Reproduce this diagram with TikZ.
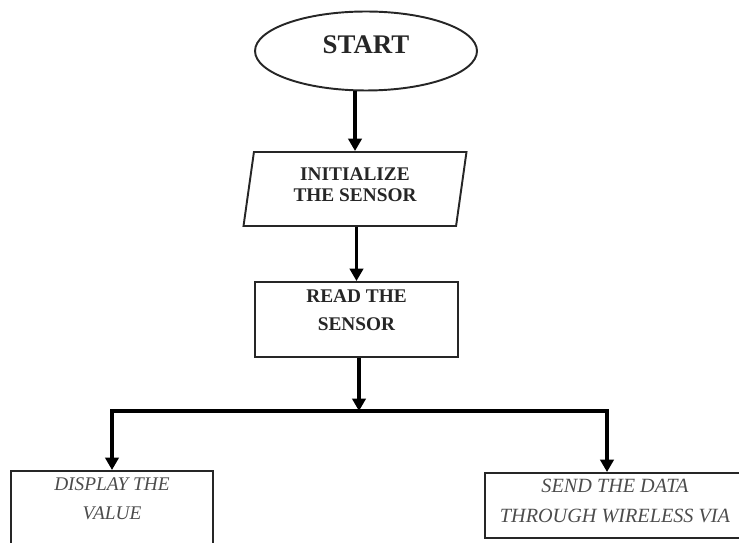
\documentclass[tikz,border=0pt]{standalone}
\usepackage{fontspec}
\setmainfont{Liberation Serif}
\usetikzlibrary{shapes.geometric,arrows.meta}
\begin{document}
\begin{tikzpicture}[x=0.02cm,y=-0.02cm,
  box/.style={draw=black!85, line width=1.1pt, inner sep=0pt, align=center},
  boldtext/.style={font=\fontsize{11}{11.5}\selectfont\bfseries, text=black!85},
  itext/.style={font=\fontsize{11}{16.5}\selectfont\itshape, text=black!70},
  flow/.style={line width=2.2pt, -{Triangle[width=7.5pt,length=7pt]}}]
\useasboundingbox (0,0) rectangle (739,543);

\node [box, ellipse, minimum width=4.44cm, minimum height=1.58cm, text depth=6.8pt,
  font=\fontsize{15.3}{16}\selectfont\bfseries, text=black!85] (start) at (366,51) {START};
\node [box, boldtext, trapezium, trapezium left angle=76, trapezium right angle=104,
  trapezium stretches body, minimum width=4.46cm, minimum height=1.48cm, text depth=5pt] (init) at (355,189) {INITIALIZE\\THE SENSOR};
\node [box, boldtext, font=\fontsize{11}{15.9}\selectfont\bfseries, minimum width=4.06cm, minimum height=1.5cm, text depth=11pt] (read) at (356.5,319.5) {READ THE\\SENSOR};
\node [box, itext, anchor=north, minimum width=4.04cm, minimum height=1.8cm, text depth=20pt] (display) at (112,470) {DISPLAY THE\\VALUE};
\node [box, itext, font=\fontsize{11.5}{17}\selectfont\itshape, minimum width=5.2cm, minimum height=1.3cm, text depth=5.7pt] (send) at (615,505.5) {SEND THE DATA\\THROUGH WIRELESS VIA};

\coordinate (split) at (359,411);
\coordinate (sendtop) at ([xshift=-0.16cm]send.north);
\draw [flow] (start.south -| init.north) -- (init.north);
\draw [flow] (init.south -| read.north) -- (read.north);
\draw [flow] (read.south -| split) -- (split);
\draw [flow] (split) -| (display.north);
\draw [flow] (split) -| (sendtop);
\end{tikzpicture}
\end{document}
